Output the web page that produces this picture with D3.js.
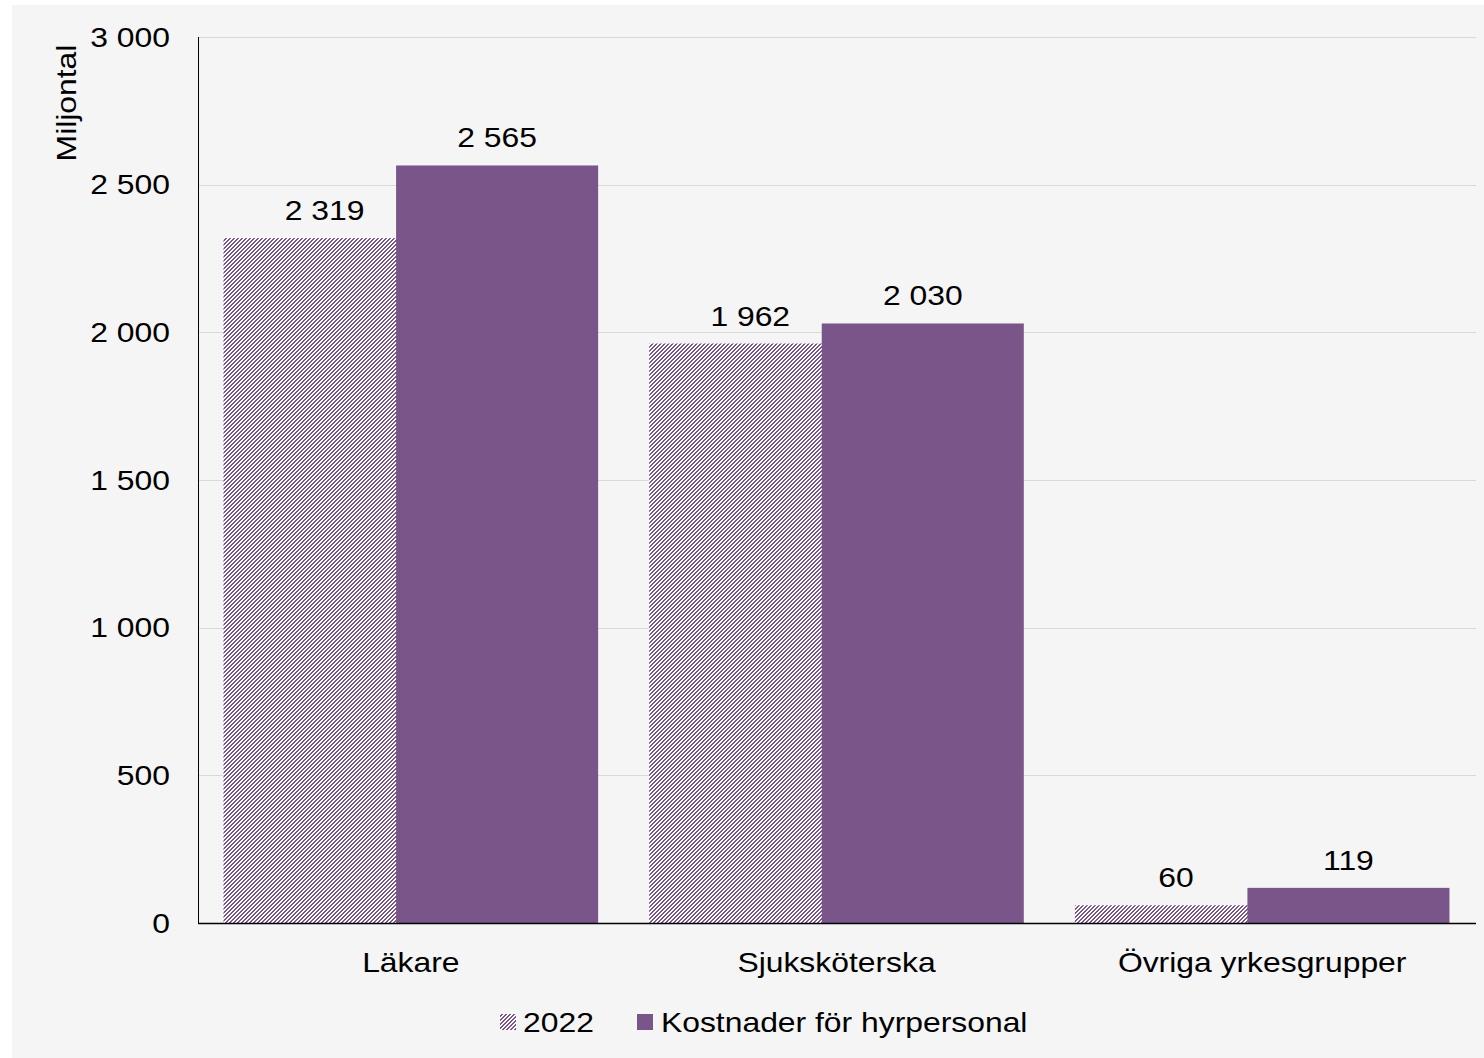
<!DOCTYPE html>
<html>
<head>
<meta charset="utf-8">
<script src="https://cdn.jsdelivr.net/npm/d3@7"></script>
<style>
  html, body { margin: 0; padding: 0; background: #ffffff; }
  svg { display: block; }
  text { font-family: "Liberation Sans", Arial, sans-serif; fill: #000; }
</style>
</head>
<body>
<svg id="chart" width="1484" height="1058"></svg>
<script>
const categories = ["Läkare", "Sjuksköterska", "Övriga yrkesgrupper"];
const seriesNames = ["2022", "Kostnader för hyrpersonal"];
const values2022 = [2319, 1962, 60];
const valuesHyr = [2565, 2030, 119];
const yTicks = [0, 500, 1000, 1500, 2000, 2500, 3000];
const yTitle = "Miljontal";

const W = 1484, H = 1058;
const purple = "#7a5589";
const FS = 27, SX = 1.18;
const fmt = v => d3.format(",")(v).replace(/,/g, " ");

const svg = d3.select("#chart");
const defs = svg.append("defs");
const pat = defs.append("pattern").attr("id", "hatch")
  .attr("patternUnits", "userSpaceOnUse").attr("width", 4).attr("height", 4);
pat.append("rect").attr("width", 4).attr("height", 4).attr("fill", "#ffffff");
[0, 1, 2, 3].forEach(r => {
  [(3 - r + 4) % 4, (4 - r) % 4].forEach(c => {
    pat.append("rect").attr("x", c).attr("y", r).attr("width", 1).attr("height", 1)
      .attr("fill", purple).attr("shape-rendering", "crispEdges");
  });
});

svg.append("rect").attr("x", 12).attr("y", 5).attr("width", W - 12).attr("height", H - 5).attr("fill", "#f5f5f5");

const x0 = 198, x1 = 1475, yTop = 37, yBot = 923;
const x = d3.scaleBand().domain(categories).range([x0, x1]).paddingInner(0.12).paddingOuter(0.06);
const y = d3.scaleLinear().domain([0, 3000]).range([yBot, yTop]);
const overlap = 0.146;
const bw = x.bandwidth() / (2 - overlap);

function txt(g, px, py, s, anchor, rot) {
  return g.append("text")
    .attr("transform", `translate(${px},${py})` + (rot ? ` rotate(${rot})` : "") + ` scale(${SX},1)`)
    .attr("text-anchor", anchor || "start")
    .attr("font-size", FS)
    .text(s);
}

// gridlines
svg.append("g").selectAll("line").data(yTicks.filter(d => d > 0)).join("line")
  .attr("x1", x0).attr("x2", x1 + 1)
  .attr("y1", d => Math.round(y(d)) + 0.5).attr("y2", d => Math.round(y(d)) + 0.5)
  .attr("stroke", "#d9d9d9").attr("stroke-width", 1);

// y tick labels
const gy = svg.append("g");
yTicks.forEach(d => txt(gy, 170, y(d) + 9.5, fmt(d), "end"));

// y title
txt(svg.append("g"), 76, 103, yTitle, "middle", -90);

// bars
const gb = svg.append("g");
categories.forEach((c, i) => {
  const bx = x(c);
  gb.append("rect").attr("x", bx).attr("y", y(values2022[i]))
    .attr("width", bw).attr("height", y(0) - y(values2022[i])).attr("fill", "url(#hatch)");
  gb.append("rect").attr("x", bx + x.bandwidth() - bw).attr("y", y(valuesHyr[i]))
    .attr("width", bw).attr("height", y(0) - y(valuesHyr[i])).attr("fill", purple);
});

// data labels
const gl = svg.append("g");
categories.forEach((c, i) => {
  const bx = x(c);
  txt(gl, bx + bw / 2, y(values2022[i]) - 18, fmt(values2022[i]), "middle");
  txt(gl, bx + x.bandwidth() - bw / 2, y(valuesHyr[i]) - 18, fmt(valuesHyr[i]), "middle");
});

// axes lines
svg.append("line").attr("x1", x0 + 0.5).attr("x2", x0 + 0.5).attr("y1", yTop).attr("y2", yBot + 1)
  .attr("stroke", "#000").attr("stroke-width", 1);
svg.append("line").attr("x1", x0).attr("x2", x1 + 1).attr("y1", yBot + 0.5).attr("y2", yBot + 0.5)
  .attr("stroke", "#000").attr("stroke-width", 1.3);

// category labels
const gc = svg.append("g");
categories.forEach(c => txt(gc, x(c) + x.bandwidth() / 2, 972, c, "middle"));

// legend
const lg = svg.append("g");
lg.append("rect").attr("x", 500).attr("y", 1014).attr("width", 16).attr("height", 16).attr("fill", "url(#hatch)");
txt(lg, 523, 1032, seriesNames[0], "start");
lg.append("rect").attr("x", 637).attr("y", 1014).attr("width", 16).attr("height", 16).attr("fill", purple);
txt(lg, 661, 1032, seriesNames[1], "start");
</script>
</body>
</html>
